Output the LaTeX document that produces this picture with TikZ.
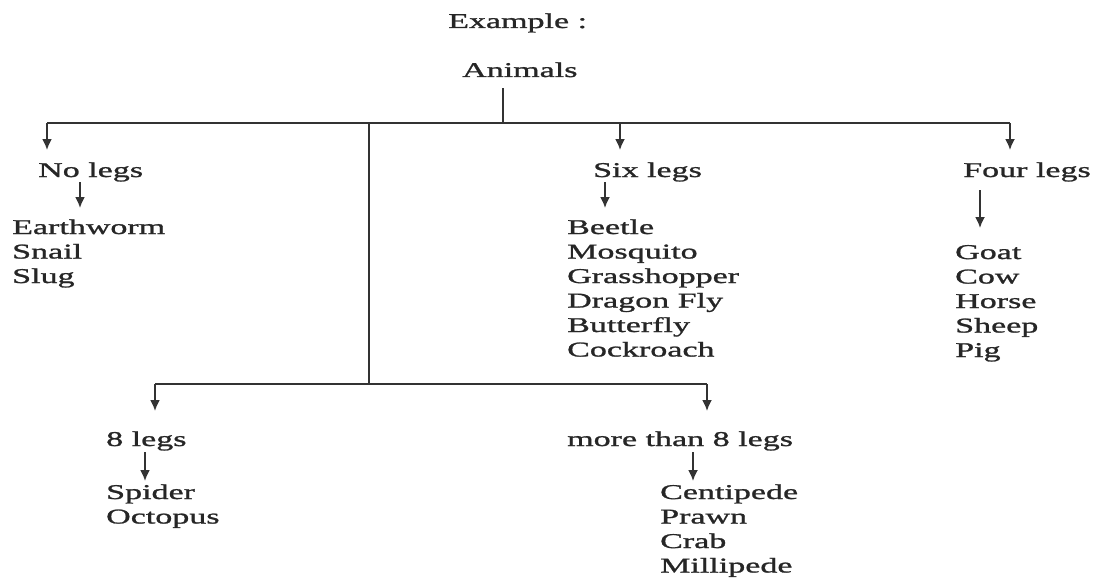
\documentclass[tikz,border=0pt]{standalone}
\usepackage{fontspec}
\setmainfont{Liberation Serif}[FakeStretch=1.62,FakeBold=1.2]
\usetikzlibrary{arrows.meta}
\begin{document}
\begin{tikzpicture}[x=1pt,y=-1pt,
  lbl/.style={anchor=base west,inner sep=0pt,align=left,text=black!85,font=\fontsize{21}{24.5}\selectfont},
  conn/.style={line width=1.8pt,draw=black!80},
  arr/.style={conn,-{Latex[length=11pt,width=10pt]}}]
\useasboundingbox (0,0) rectangle (1102,578);
\fill[white] (0,0) rectangle (1102,578);
% texts (multi-line nodes are placed by the baseline of their last line)
\node[lbl] (ex) at (448,28) {Example :};
\node[lbl] (animals) at (462,77) {Animals};
\node[lbl] (nolegs) at (38,177) {No legs};
\node[lbl] (nolist) at (12,283) {Earthworm\\Snail\\Slug};
\node[lbl] (six) at (593,177) {Six legs};
\node[lbl] (sixlist) at (567,356.5) {Beetle\\Mosquito\\Grasshopper\\Dragon Fly\\Butterfly\\Cockroach};
\node[lbl] (four) at (963,177) {Four legs};
\node[lbl] (fourlist) at (955,357) {Goat\\Cow\\Horse\\Sheep\\Pig};
\node[lbl] (eight) at (106,446) {8 legs};
\node[lbl] (eightlist) at (106,523.5) {Spider\\Octopus};
\node[lbl] (more) at (567,446) {more than 8 legs};
\node[lbl] (morelist) at (660,572.5) {Centipede\\Prawn\\Crab\\Millipede};
% junctions
\coordinate (stem) at (503,88);
\coordinate (top) at (503,123);
\coordinate (tl) at (47,123);
\coordinate (tsix) at (620,123);
\coordinate (tr) at (1010,123);
\coordinate (tmain) at (369,123);
\coordinate (bmain) at (369,384);
\coordinate (bl) at (155,384);
\coordinate (br) at (707,384);
% arrow tips and sub-arrow ends
\coordinate (tlend) at (47,150);
\coordinate (tsixend) at (620,150);
\coordinate (trend) at (1010,150);
\coordinate (blend) at (155,411);
\coordinate (brend) at (707,411);
\coordinate (nls) at (80,182);  \coordinate (nle) at (80,208);
\coordinate (sxs) at (605,182); \coordinate (sxe) at (605,208);
\coordinate (fls) at (980,190); \coordinate (fle) at (980,228);
\coordinate (egs) at (145,452); \coordinate (ege) at (145,481);
\coordinate (mrs) at (693,452); \coordinate (mre) at (693,481);
% connectors
\draw[conn] (stem) -- (top);
\draw[conn] (tl) -- (tr);
\draw[arr] (tl) -- (tlend);
\draw[arr] (tsix) -- (tsixend);
\draw[arr] (tr) -- (trend);
\draw[conn] (tmain) -- (bmain);
\draw[conn] (bl) -- (br);
\draw[arr] (bl) -- (blend);
\draw[arr] (br) -- (brend);
\draw[arr] (nls) -- (nle);
\draw[arr] (sxs) -- (sxe);
\draw[arr] (fls) -- (fle);
\draw[arr] (egs) -- (ege);
\draw[arr] (mrs) -- (mre);
\end{tikzpicture}
\end{document}
